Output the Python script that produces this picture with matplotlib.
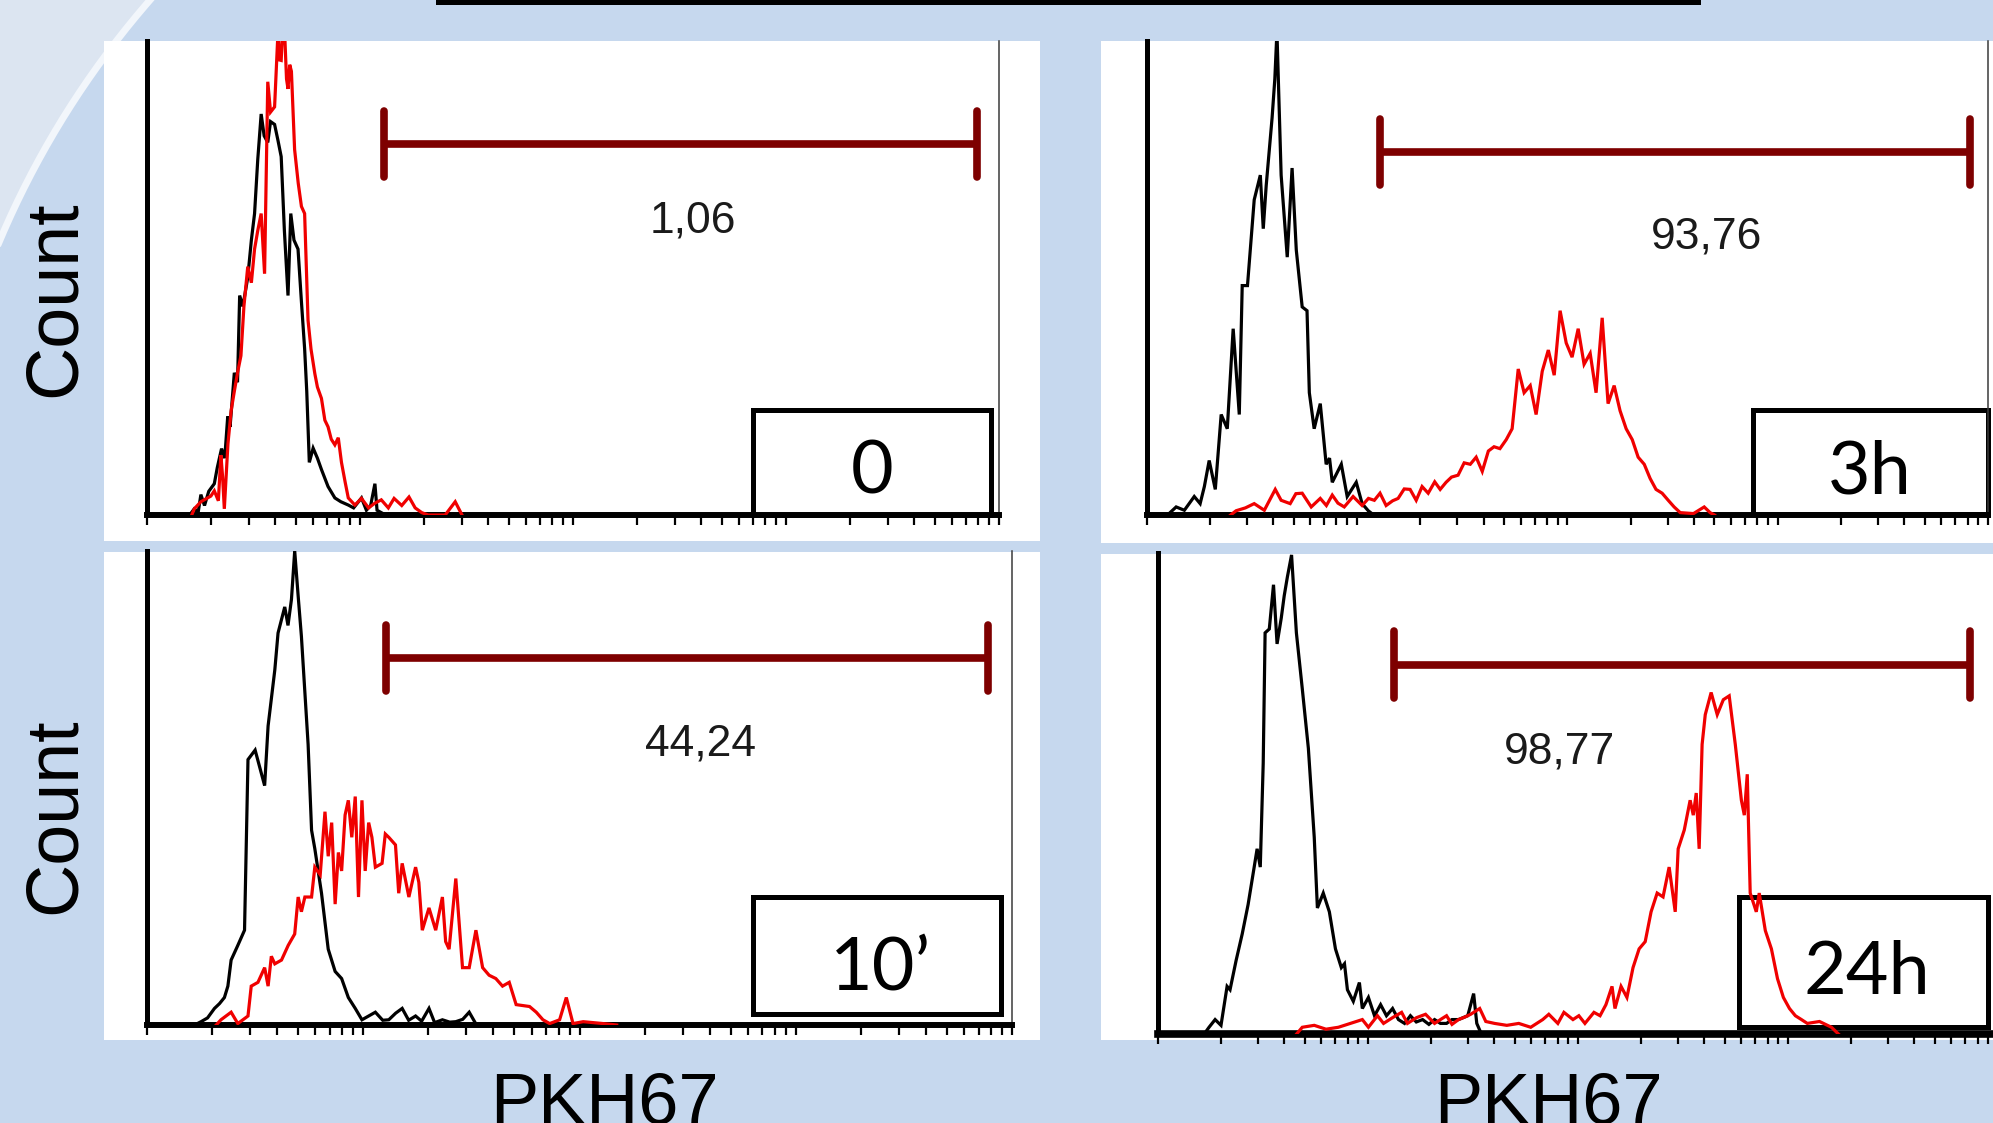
import numpy as np
import matplotlib
matplotlib.use("Agg")
import matplotlib.pyplot as plt
from matplotlib.patches import Rectangle, Polygon
from matplotlib.lines import Line2D
from matplotlib.ticker import LogLocator, NullFormatter, NullLocator

# ------------------------------------------------------------------ data
time_labels = ["0", "3h", "10\u2019", "24h"]
gate_percent = ["1,06", "93,76", "44,24", "98,77"]
gate_ranges = [(13.0, 7880.0), (12.9, 8200.0), (12.8, 7720.0), (13.3, 7360.0)]
gate_level = [78.3, 76.6, 77.4, 76.8]
gate_label_x = [366.0, 461.0, 361.0, 81.6]
gate_label_y = [59.7, 56.3, 56.8, 56.3]

# histograms: log10(PKH67 intensity) and count (% of axis max)
p0_ctrl_logx = [0.20, 0.222, 0.24, 0.253, 0.27, 0.29, 0.316, 0.33, 0.35, 0.365,
                0.379, 0.39, 0.41, 0.425, 0.435, 0.45, 0.473, 0.49, 0.505, 0.52,
                0.536, 0.55, 0.567, 0.58, 0.599, 0.615, 0.630, 0.645, 0.662, 0.675,
                0.69, 0.709, 0.725, 0.740, 0.75, 0.762, 0.78, 0.80, 0.819, 0.85,
                0.882, 0.91, 0.945, 0.97, 1.007, 1.03, 1.05, 1.070, 1.08, 1.10, 1.12]
p0_ctrl_count = [0, 1.3, 0.5, 4.3, 2, 5, 6.6, 10, 14, 12,
                 20.8, 18.6, 30, 28, 46.3, 44, 50.1, 58, 63.6, 75,
                 84.6, 80, 78.6, 83, 82.4, 79, 75.6, 60, 46.3, 63.6,
                 58, 56.1, 45, 35.1, 26.1, 11.1, 14.1, 12, 9.6, 6,
                 3.6, 2.8, 2.1, 1.5, 3.6, 1, 2, 6.6, 1, 0.5, 0]
p0_pkh_logx = [0.21, 0.222, 0.253, 0.30, 0.316, 0.335, 0.347, 0.355, 0.363, 0.38,
               0.395, 0.41, 0.425, 0.441, 0.455, 0.473, 0.49, 0.505, 0.52, 0.536,
               0.552, 0.567, 0.58, 0.599, 0.615, 0.622, 0.630, 0.638, 0.646, 0.655,
               0.662, 0.670, 0.678, 0.693, 0.71, 0.725, 0.740, 0.756, 0.77, 0.788,
               0.80, 0.819, 0.835, 0.850, 0.865, 0.882, 0.898, 0.913, 0.93, 0.945,
               0.976, 1.007, 1.04, 1.070, 1.10, 1.133, 1.16, 1.196, 1.23, 1.259,
               1.290, 1.32, 1.40, 1.447, 1.479]
p0_pkh_count = [0, 1.3, 2.8, 4, 5.1, 3, 12.6, 8, 1.3, 15,
                22, 26.1, 30, 33.6, 44, 52.4, 49, 56.1, 60, 63.6,
                50.9, 91.4, 85, 86.1, 102, 96, 95.9, 104, 102, 92,
                89.9, 95, 93.6, 77.1, 70, 65.1, 63.6, 41.1, 35, 29.8,
                27, 24.6, 20, 18.6, 16, 14.8, 16.3, 11.1, 7, 3.6,
                2.1, 3.5, 1.5, 2.5, 3.2, 1.5, 3.5, 2, 3.8, 1.5,
                0.5, 0, 0, 2.8, 0]

p3h_ctrl_logx = [0.10, 0.141, 0.18, 0.227, 0.255, 0.275, 0.298, 0.327, 0.355, 0.384,
                 0.412, 0.441, 0.455, 0.48, 0.512, 0.541, 0.555, 0.569, 0.597, 0.610,
                 0.620, 0.640, 0.669, 0.692, 0.712, 0.740, 0.763, 0.774, 0.797, 0.826,
                 0.854, 0.870, 0.883, 0.926, 0.954, 0.997, 1.025, 1.054, 1.08]
p3h_ctrl_count = [0, 1.7, 1.0, 3.9, 2.4, 6, 11.5, 5.4, 21.2, 18.2,
                  39.3, 21.2, 48.4, 48.4, 66.5, 71.7, 60.4, 69.5, 83.8, 92,
                  102, 71.7, 54.4, 73.2, 55.9, 43.9, 43.1, 25.8, 18.2, 23.5,
                  10.7, 12, 6.9, 10.7, 3.9, 6.9, 2.4, 0.9, 0]
p3h_pkh_logx = [0.40, 0.426, 0.47, 0.512, 0.56, 0.612, 0.640, 0.683, 0.71, 0.740,
                0.783, 0.826, 0.855, 0.883, 0.91, 0.940, 0.982, 1.025, 1.055, 1.083,
                1.11, 1.139, 1.17, 1.196, 1.225, 1.253, 1.282, 1.31, 1.339, 1.37,
                1.396, 1.424, 1.45, 1.481, 1.51, 1.539, 1.567, 1.596, 1.625, 1.652,
                1.68, 1.710, 1.738, 1.767, 1.795, 1.824, 1.852, 1.881, 1.910, 1.938,
                1.966, 1.995, 2.023, 2.052, 2.080, 2.109, 2.137, 2.166, 2.194, 2.223,
                2.251, 2.280, 2.309, 2.337, 2.366, 2.394, 2.422, 2.451, 2.480, 2.508,
                2.537, 2.60, 2.651, 2.679, 2.70]
p3h_pkh_count = [0, 0.9, 1.5, 2.4, 1.0, 5.4, 3.1, 2.4, 4.5, 4.6,
                 1.7, 3.5, 2.0, 4.2, 2.5, 1.7, 3.9, 2.0, 3.5, 3.1,
                 4.6, 2.0, 3.0, 3.5, 5.5, 5.4, 3.1, 6.0, 4.6, 7.0,
                 5.4, 6.9, 8.0, 8.4, 11.0, 10.7, 12.2, 9.2, 13.5, 14.4,
                 14.0, 15.9, 18.2, 30.8, 25.8, 27.3, 21.2, 30.3, 34.8, 29.5,
                 43.1, 36.3, 33.3, 39.3, 31.8, 34.1, 25.8, 41.6, 23.5, 27.3,
                 22.0, 18.2, 15.9, 12.2, 10.7, 7.7, 5.4, 4.6, 3.1, 1.7,
                 0.5, 0.3, 1.7, 0.5, 0]

p10_ctrl_logx = [0.22, 0.25, 0.28, 0.312, 0.335, 0.358, 0.374, 0.389, 0.420, 0.451,
                 0.467, 0.50, 0.544, 0.560, 0.591, 0.606, 0.637, 0.652, 0.668, 0.683,
                 0.699, 0.714, 0.745, 0.761, 0.776, 0.807, 0.838, 0.870, 0.900, 0.931,
                 0.963, 0.994, 1.025, 1.056, 1.09, 1.118, 1.15, 1.180, 1.21, 1.242,
                 1.27, 1.304, 1.33, 1.366, 1.40, 1.428, 1.46, 1.490, 1.520, 1.55]
p10_ctrl_count = [0, 0.7, 1.5, 3.5, 4.5, 5.8, 8.2, 13.7, 16.8, 20.0,
                  56.0, 58, 50.5, 63.1, 74.9, 82.7, 88.2, 84.3, 89.8, 100,
                  90.5, 82, 59.2, 41.1, 37.2, 27.8, 16.0, 11.3, 9.8, 5.8,
                  3.5, 1.1, 1.9, 2.7, 1.0, 1.1, 2.5, 3.5, 1.0, 1.9,
                  0.8, 3.5, 0.5, 1.1, 0.6, 0.7, 1.2, 2.7, 0.3, 0]
p10_pkh_logx = [0.32, 0.342, 0.389, 0.420, 0.467, 0.482, 0.513, 0.544, 0.560, 0.575,
                0.591, 0.622, 0.653, 0.683, 0.699, 0.714, 0.730, 0.761, 0.776, 0.801,
                0.823, 0.838, 0.854, 0.870, 0.885, 0.900, 0.916, 0.931, 0.947, 0.963,
                0.978, 0.994, 1.009, 1.025, 1.040, 1.056, 1.087, 1.102, 1.118, 1.149,
                1.164, 1.180, 1.211, 1.242, 1.257, 1.273, 1.304, 1.335, 1.366, 1.381,
                1.397, 1.428, 1.459, 1.490, 1.521, 1.552, 1.582, 1.613, 1.644, 1.675,
                1.707, 1.769, 1.800, 1.831, 1.862, 1.908, 1.939, 1.970, 2.017, 2.110,
                2.172]
p10_pkh_count = [0, 1.1, 2.7, 0.3, 1.9, 8.2, 9.0, 12.1, 8.2, 14.5,
                 12.9, 13.7, 16.8, 19.2, 27.0, 23.9, 27.0, 27.0, 33.3, 31.7,
                 45.0, 35.6, 42.7, 25.5, 36.4, 32.5, 44.3, 47.4, 39.6, 48.2,
                 27.0, 47.4, 32.5, 42.7, 39.6, 33.3, 34.1, 40.3, 39.6, 38.0,
                 27.8, 34.1, 27.0, 33.3, 30.1, 20.0, 24.7, 20.0, 27.0, 17.6,
                 16.0, 30.9, 12.1, 12.1, 20.0, 12.1, 10.5, 9.8, 8.2, 9.0,
                 4.3, 3.9, 2.7, 1.1, 0.3, 1.1, 5.8, 0.3, 0.7, 0.3,
                 0]

p24_ctrl_logx = [0.22, 0.243, 0.272, 0.300, 0.329, 0.343, 0.372, 0.401, 0.429, 0.458,
                 0.472, 0.487, 0.501, 0.510, 0.530, 0.550, 0.567, 0.587, 0.601, 0.616,
                 0.636, 0.659, 0.687, 0.716, 0.744, 0.759, 0.787, 0.816, 0.845, 0.873,
                 0.888, 0.902, 0.930, 0.959, 0.973, 1.002, 1.031, 1.060, 1.088, 1.117,
                 1.145, 1.174, 1.202, 1.23, 1.260, 1.29, 1.317, 1.345, 1.374, 1.40,
                 1.431, 1.475, 1.503, 1.518, 1.54]
p24_ctrl_count = [0, 1.4, 3.0, 1.8, 9.9, 9.2, 15.3, 20.8, 26.9, 34.7,
                  38.5, 34.7, 56.3, 83.4, 84.2, 93.4, 81.1, 86.5, 91.1, 95.0,
                  99.6, 83.4, 71.8, 59.4, 40.9, 26.2, 29.3, 25.4, 17.7, 13.8,
                  14.6, 9.2, 6.8, 10.7, 5.3, 7.6, 3.8, 6.1, 3.8, 5.3,
                  3.0, 2.2, 3.8, 2.5, 3.0, 2.0, 3.0, 2.2, 2.2, 3.0,
                  3.0, 3.8, 8.4, 2.2, 0]
p24_pkh_logx = [0.66, 0.687, 0.744, 0.80, 0.859, 0.916, 0.973, 1.002, 1.045, 1.074,
                1.117, 1.160, 1.188, 1.231, 1.274, 1.317, 1.345, 1.374, 1.40, 1.431,
                1.46, 1.489, 1.532, 1.561, 1.603, 1.661, 1.718, 1.775, 1.832, 1.861,
                1.904, 1.933, 1.976, 2.004, 2.033, 2.076, 2.105, 2.133, 2.162, 2.176,
                2.205, 2.233, 2.262, 2.291, 2.320, 2.348, 2.377, 2.405, 2.434, 2.463,
                2.477, 2.506, 2.534, 2.549, 2.563, 2.577, 2.591, 2.606, 2.634, 2.663,
                2.692, 2.720, 2.749, 2.778, 2.792, 2.806, 2.820, 2.849, 2.863, 2.892,
                2.921, 2.950, 2.978, 3.007, 3.035, 3.064, 3.092, 3.150, 3.207, 3.24]
p24_pkh_count = [0, 1.4, 1.8, 1.0, 1.4, 2.2, 3.0, 1.4, 3.8, 2.2,
                 3.4, 4.5, 2.2, 3.4, 4.1, 2.2, 3.0, 3.8, 2.0, 3.0,
                 3.5, 4.1, 5.3, 2.6, 2.2, 1.8, 2.2, 1.4, 3.0, 4.1,
                 2.2, 4.5, 3.0, 3.8, 2.2, 4.5, 3.8, 6.1, 9.9, 5.3,
                 9.9, 7.6, 13.8, 17.7, 19.2, 25.4, 29.3, 28.5, 34.7, 25.4,
                 38.5, 42.4, 48.6, 45.5, 50.1, 38.5, 60.2, 66.4, 71.0, 66.4,
                 69.5, 70.3, 60.2, 48.6, 45.5, 54.0, 29.3, 25.4, 29.3, 21.5,
                 17.7, 11.5, 7.6, 5.3, 3.8, 3.0, 2.2, 2.6, 1.4, 0]

ctrl_curves = [(p0_ctrl_logx, p0_ctrl_count), (p3h_ctrl_logx, p3h_ctrl_count),
               (p10_ctrl_logx, p10_ctrl_count), (p24_ctrl_logx, p24_ctrl_count)]
pkh_curves = [(p0_pkh_logx, p0_pkh_count), (p3h_pkh_logx, p3h_pkh_count),
              (p10_pkh_logx, p10_pkh_count), (p24_pkh_logx, p24_pkh_count)]

# ------------------------------------------------------------------ layout (pixels, top-left origin)
W, H = 1993, 1123
BG = "#C6D8EE"
CORNER = "#DCE5F1"
GATE = "#7E0000"
RED = "#F00000"

axes_px = [(147, 41, 999, 515), (1146.5, 41, 1988, 515),
           (147, 551, 1012, 1025), (1158, 553, 1998, 1034)]
white_px = [(104, 41, 1040, 541), (1101, 41, 1995, 543),
            (104, 552, 1040, 1040), (1101, 554, 1995, 1040)]
box_px = [(753, 410, 991, 515), (1753, 410, 1988, 514),
          (753, 897, 1001, 1014), (1739, 897, 1988, 1027)]
box_text_px = [(872, 493), (1870, 493), (881, 989), (1867, 994)]
bottom_lw = [4.3, 4.3, 4.3, 5.5]


def fx(x):
    return x / W


def fy(y):
    return 1 - y / H


def frect(x0, y0, x1, y1):
    return [fx(x0), fy(y1), (x1 - x0) / W, (y1 - y0) / H]


fig = plt.figure(figsize=(W / 100, H / 100), dpi=100)
fig.patch.set_facecolor(BG)

# lighter curved corner at top left
cx, cy, r = 827, 590, 898
th = np.radians(np.linspace(-162, -122, 200))
ax_pts = cx + r * np.cos(th)
ay_pts = cy + r * np.sin(th)
poly = [(fx(x), fy(y)) for x, y in zip(ax_pts, ay_pts)] + [(fx(-60), fy(-200))]
fig.add_artist(Polygon(poly, closed=True, transform=fig.transFigure,
                       facecolor=CORNER, edgecolor="none", zorder=0))
fig.add_artist(Line2D([fx(x) for x in ax_pts], [fy(y) for y in ay_pts],
                      transform=fig.transFigure, color="#F2F6FB", lw=5, zorder=0.5))

# top black bar
fig.add_artist(Rectangle((fx(436), fy(5)), (1701 - 436) / W, 5 / H,
                         transform=fig.transFigure, facecolor="black",
                         edgecolor="none", zorder=1))

# white panel backgrounds
for (x0, y0, x1, y1) in white_px:
    fig.add_artist(Rectangle((fx(x0), fy(y1)), (x1 - x0) / W, (y1 - y0) / H,
                             transform=fig.transFigure, facecolor="white",
                             edgecolor="none", zorder=1))

for i in range(4):
    ax = fig.add_axes(frect(*axes_px[i]))
    ax.set_zorder(2)
    ax.patch.set_alpha(0)
    ax.set_xscale("log")
    ax.set_xlim(1, 1e4)
    ax.set_ylim(0, 100)
    ax.xaxis.set_major_locator(LogLocator(base=10, numticks=10))
    ax.xaxis.set_minor_locator(LogLocator(base=10, subs=np.arange(2, 10), numticks=40))
    ax.xaxis.set_major_formatter(NullFormatter())
    ax.xaxis.set_minor_formatter(NullFormatter())
    ax.yaxis.set_major_locator(NullLocator())
    ax.tick_params(axis="x", which="both", direction="out", length=7, width=1.6,
                   color="black", bottom=True, top=False)
    ax.spines["top"].set_visible(False)
    ax.spines["left"].set_linewidth(3.6)
    ax.spines["bottom"].set_linewidth(bottom_lw[i])
    ax.spines["right"].set_linewidth(1.1)
    ax.spines["right"].set_color("#3a3a3a")
    for s in ("left", "bottom"):
        ax.spines[s].set_capstyle("projecting")

    lx, ly = ctrl_curves[i]
    ax.plot(10 ** np.array(lx), ly, color="black", lw=2.3, zorder=2,
            solid_joinstyle="miter")
    lx, ly = pkh_curves[i]
    ax.plot(10 ** np.array(lx), ly, color=RED, lw=2.3, zorder=3,
            solid_joinstyle="miter")

    g0, g1 = gate_ranges[i]
    gy = gate_level[i]
    ax.plot([g0, g1], [gy, gy], color=GATE, lw=5.5, solid_capstyle="butt", zorder=4)
    vl = ax.vlines([g0, g1], gy - 7, gy + 7, color=GATE, lw=5.5, zorder=4)
    vl.set_capstyle("round")
    ax.text(gate_label_x[i], gate_label_y[i], gate_percent[i], ha="center",
            va="baseline", fontsize=32, family="Liberation Sans", color="#1a1a1a",
            zorder=5)

    bx0, by0, bx1, by1 = box_px[i]
    ax.add_patch(Rectangle((fx(bx0), fy(by1)), (bx1 - bx0) / W, (by1 - by0) / H,
                           transform=fig.transFigure, fill=False, edgecolor="black",
                           lw=3.6, clip_on=False, zorder=1.5))
    tx, ty = box_text_px[i]
    fig.text(fx(tx), fy(ty), time_labels[i], ha="center", va="baseline",
             fontsize=53, family="Lato", color="black", zorder=6)

# axis titles (the PKH67 titles run off the bottom edge, as in the original)
for yc in (299, 816):
    fig.text(fx(55), fy(yc), "Count", rotation=90, ha="center", va="center",
             fontsize=53, family="Liberation Sans", color="black", zorder=6)
for xc in (604, 1548):
    fig.text(fx(xc), fy(1124), "PKH67", ha="center", va="baseline",
             fontsize=52, family="Liberation Sans", color="black", zorder=6)

fig.savefig("out.png", dpi=100, facecolor=fig.get_facecolor())
